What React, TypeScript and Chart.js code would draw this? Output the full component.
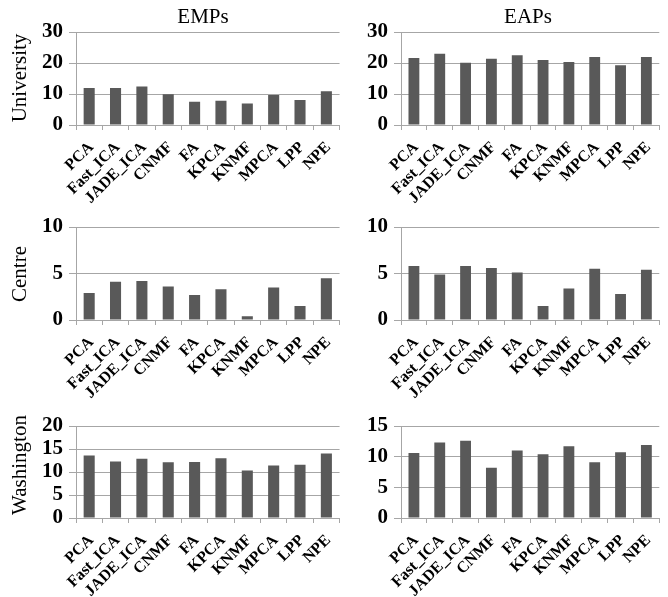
import React, { useEffect, useRef } from "react";
import { Chart, registerables } from "chart.js";

Chart.register(...registerables);

const CATEGORIES = ["PCA", "Fast_ICA", "JADE_ICA", "CNMF", "FA", "KPCA", "KNMF", "MPCA", "LPP", "NPE"];

const UNIVERSITY_EMPS = [11.9, 11.9, 12.4, 9.9, 7.5, 7.8, 6.9, 9.7, 8.1, 10.9];
const UNIVERSITY_EAPS = [21.6, 23.0, 20.1, 21.4, 22.5, 21.0, 20.3, 21.9, 19.3, 21.9];
const CENTRE_EMPS = [2.9, 4.1, 4.2, 3.6, 2.7, 3.3, 0.4, 3.5, 1.5, 4.5];
const CENTRE_EAPS = [5.8, 4.9, 5.8, 5.6, 5.1, 1.5, 3.4, 5.5, 2.8, 5.4];
const WASHINGTON_EMPS = [13.6, 12.3, 12.9, 12.1, 12.2, 13.0, 10.3, 11.4, 11.6, 14.0];
const WASHINGTON_EAPS = [10.6, 12.3, 12.6, 8.2, 11.0, 10.4, 11.7, 9.1, 10.7, 11.9];

const COLUMN_TITLES = ["EMPs", "EAPs"];
const ROW_TITLES = ["University", "Centre", "Washington"];

const SERIF = '"Liberation Serif", "Times New Roman", serif';
const BAR_COLOR = "#595959";
const GRID_COLOR = "#a6a6a6";

type PanelSpec = {
  values: number[];
  max: number;
  step: number;
  left: number;
  top: number;
  width: number;
  height: number;
  yWidth: number;
  padTop: number;
  xHeight: number;
};

const ROWS = [
  { top: 0, height: 215, padTop: 32, xHeight: 90 },
  { top: 200, height: 210, padTop: 27, xHeight: 90 },
  { top: 400, height: 197, padTop: 26, xHeight: 79 },
];
const COLS = [
  { left: 0, width: 348, yWidth: 76 },
  { left: 348, width: 320, yWidth: 53 },
];

const PANELS: PanelSpec[] = [
  { values: UNIVERSITY_EMPS, max: 30, step: 10, ...ROWS[0], ...COLS[0] },
  { values: UNIVERSITY_EAPS, max: 30, step: 10, ...ROWS[0], ...COLS[1] },
  { values: CENTRE_EMPS, max: 10, step: 5, ...ROWS[1], ...COLS[0] },
  { values: CENTRE_EAPS, max: 10, step: 5, ...ROWS[1], ...COLS[1] },
  { values: WASHINGTON_EMPS, max: 20, step: 5, ...ROWS[2], ...COLS[0] },
  { values: WASHINGTON_EAPS, max: 15, step: 5, ...ROWS[2], ...COLS[1] },
];

function Panel({ spec }: { spec: PanelSpec }) {
  const ref = useRef<HTMLCanvasElement | null>(null);
  useEffect(() => {
    if (!ref.current) return;
    const chart = new Chart(ref.current, {
      type: "bar",
      data: {
        labels: CATEGORIES,
        datasets: [
          {
            data: spec.values,
            backgroundColor: BAR_COLOR,
            categoryPercentage: 1,
            barPercentage: 0.42,
          },
        ],
      },
      options: {
        animation: false,
        responsive: false,
        maintainAspectRatio: false,
        layout: { padding: { top: spec.padTop, right: 1, left: 0, bottom: 0 } },
        plugins: { legend: { display: false }, tooltip: { enabled: false } },
        scales: {
          x: {
            grid: {
              display: true,
              offset: true,
              drawOnChartArea: false,
              drawTicks: true,
              tickLength: 5,
              color: GRID_COLOR,
            },
            border: { color: GRID_COLOR },
            ticks: {
              autoSkip: false,
              maxRotation: 45,
              minRotation: 45,
              color: "#000",
              padding: 8,
              labelOffset: 2,
              font: { family: SERIF, size: 16, weight: "bold" },
            },
            afterFit: (s: any) => {
              s.height = spec.xHeight;
            },
          },
          y: {
            min: 0,
            max: spec.max,
            ticks: {
              stepSize: spec.step,
              autoSkip: false,
              color: "#000",
              padding: 6,
              font: { family: SERIF, size: 21, weight: "bold" },
            },
            grid: { color: GRID_COLOR, tickLength: 7 },
            border: { color: GRID_COLOR },
            afterFit: (s: any) => {
              s.width = spec.yWidth;
            },
          },
        },
      },
    });
    return () => chart.destroy();
  }, [spec]);
  return (
    <canvas
      ref={ref}
      width={spec.width}
      height={spec.height}
      style={{ position: "absolute", left: spec.left, top: spec.top, width: spec.width, height: spec.height }}
    />
  );
}

export default function App() {
  const titleCenters = [203, 528];
  const rowCenters = [78, 274, 465];
  return (
    <div
      style={{
        position: "absolute",
        left: 0,
        top: 0,
        width: 668,
        height: 597,
        background: "#fff",
        overflow: "hidden",
        fontFamily: SERIF,
      }}
    >
      {PANELS.map((p, i) => (
        <Panel key={i} spec={p} />
      ))}
      {COLUMN_TITLES.map((t, i) => (
        <div
          key={t}
          style={{
            position: "absolute",
            left: titleCenters[i] - 60,
            top: 4,
            width: 120,
            textAlign: "center",
            fontSize: 21,
            lineHeight: "24px",
            color: "#000",
          }}
        >
          {t}
        </div>
      ))}
      {ROW_TITLES.map((t, i) => (
        <div
          key={t}
          style={{
            position: "absolute",
            left: 19 - 80,
            top: rowCenters[i] - 12,
            width: 160,
            height: 24,
            textAlign: "center",
            fontSize: 21,
            lineHeight: "24px",
            color: "#000",
            transform: "rotate(-90deg)",
            transformOrigin: "50% 50%",
          }}
        >
          {t}
        </div>
      ))}
    </div>
  );
}
